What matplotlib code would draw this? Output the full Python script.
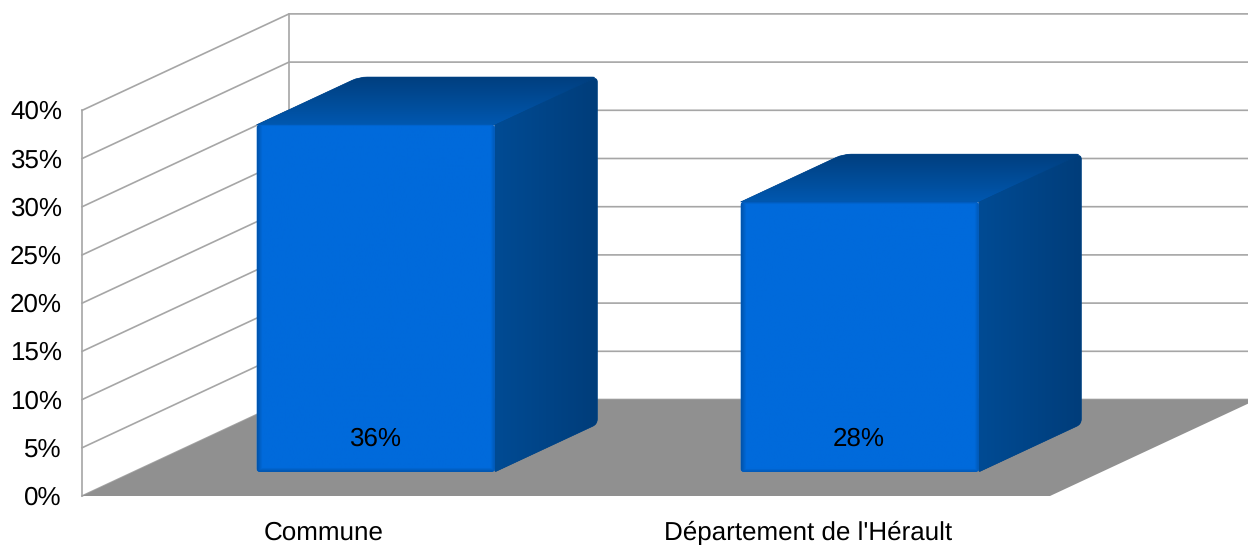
import matplotlib
matplotlib.use("Agg")
import matplotlib.pyplot as plt
import numpy as np
from matplotlib.colors import to_rgb
from matplotlib.patches import FancyBboxPatch, PathPatch, Polygon
from matplotlib.path import Path

categories = ["Commune", "Département de l'Hérault"]
values = [36, 28]
value_labels = ["36%", "28%"]
y_ticks = [0, 5, 10, 15, 20, 25, 30, 35, 40]
y_tick_labels = ["0%", "5%", "10%", "15%", "20%", "25%", "30%", "35%", "40%"]

WIDTH, HEIGHT = 1248, 545
ORIGIN_X, ORIGIN_Y = 82, 496
CAT_W = 484
PX_PER_PCT = 9.64
DEPTH_X, DEPTH_Y = 207, 96.5
BAR_LEFT, BAR_RIGHT = 0.254, 0.746
BAR_FRONT, BAR_BACK = 0.25, 0.745
GRID = "#a6a6a6"
FLOOR = "#909090"
FONT_SIZE = 18.5

plt.rcParams["font.family"] = ["Liberation Sans", "DejaVu Sans"]
plt.rcParams["text.hinting"] = "no_hinting"
plt.rcParams["text.hinting_factor"] = 1


def project(x, y, z=0.0):
    # x in categories, y in percent, z is depth from 0 (front) to 1 (back)
    return (ORIGIN_X + CAT_W * x + DEPTH_X * z, ORIGIN_Y - PX_PER_PCT * y - DEPTH_Y * z)


def lerp_rgb(c0, c1, t):
    c0, c1 = np.array(to_rgb(c0)), np.array(to_rgb(c1))
    return c0 + (c1 - c0) * np.clip(t, 0, 1)[..., None]


def rounded_path(points, radii):
    # closed outline, each corner cut back by its radius and bent with a quadratic curve
    pts = [np.array(p, dtype=float) for p in points]
    n = len(pts)
    verts, codes = [], []
    for i, p in enumerate(pts):
        prev_pt, next_pt = pts[i - 1], pts[(i + 1) % n]
        r = radii[i]
        a = p + (prev_pt - p) / np.linalg.norm(prev_pt - p) * r
        b = p + (next_pt - p) / np.linalg.norm(next_pt - p) * r
        verts.append(a)
        codes.append(Path.MOVETO if i == 0 else Path.LINETO)
        verts.extend([p, b])
        codes.extend([Path.CURVE3, Path.CURVE3])
    verts.append(verts[0])
    codes.append(Path.CLOSEPOLY)
    return Path(verts, codes)


def shaded(ax, rgb, bbox, clip, zorder):
    x0, y0, x1, y1 = bbox
    im = ax.imshow(rgb, extent=(x0, x1, y1, y0), aspect="auto", zorder=zorder, interpolation="bilinear")
    im.set_clip_path(clip)


def draw_bar(ax, pos, value):
    left, right = pos + BAR_LEFT, pos + BAR_RIGHT
    fl = project(left, value, BAR_FRONT)
    fr = project(right, value, BAR_FRONT)
    br = project(right, 0, BAR_FRONT)
    bl = project(left, 0, BAR_FRONT)
    tl_back = project(left, value, BAR_BACK)
    tr_back = project(right, value, BAR_BACK)
    br_back = project(right, 0, BAR_BACK)

    # top face, darker toward the back
    top = PathPatch(rounded_path([fl, fr, tr_back, tl_back], [0.1, 0.1, 5, 8]),
                    fc="#00478f", ec="#00478f", lw=0.5, zorder=3)
    ax.add_patch(top)
    bbox = (fl[0], tl_back[1], tr_back[0], fl[1])
    xx, yy = np.meshgrid(np.linspace(0, 1, 160), np.linspace(0, 1, 80))
    t = yy * 0.95 - np.clip(xx + yy * 0.28 - 0.98, 0, 1) * 2.2
    shaded(ax, lerp_rgb("#003f7f", "#0059b2", t), bbox, top, 3.1)

    # right side face, a little darker toward the back edge
    side = PathPatch(rounded_path([fr, tr_back, br_back, br], [0.1, 5, 5, 1.5]),
                     fc="#004487", ec="#004487", lw=0.5, zorder=3)
    ax.add_patch(side)
    bbox = (fr[0], tr_back[1], tr_back[0], br[1])
    xx = np.linspace(0, 1, 120)[None, :].repeat(2, axis=0)
    shaded(ax, lerp_rgb("#004b94", "#003d7a", xx), bbox, side, 3.1)

    # front face with a soft darker rim
    w, h = br[0] - bl[0], bl[1] - fl[1]
    front = FancyBboxPatch((fl[0], fl[1]), w, h, boxstyle="round,pad=0,rounding_size=3",
                           fc="#006adb", ec="none", zorder=4)
    ax.add_patch(front)
    px = np.arange(int(w))[None, :].repeat(int(h), axis=0)
    py = np.arange(int(h))[:, None].repeat(int(w), axis=1)
    rim = np.minimum.reduce([px / 5.0, (w - 1 - px) / 5.0, (h - 1 - py) / 4.0, py / 3.0 + 0.4])
    shaded(ax, lerp_rgb("#0054ad", "#006adb", rim), (fl[0], fl[1], fr[0], bl[1]), front, 4.1)


fig = plt.figure(figsize=(WIDTH / 100, HEIGHT / 100), dpi=100, facecolor="white")
ax = fig.add_axes([0, 0, 1, 1])
ax.set_xlim(0, WIDTH)
ax.set_ylim(HEIGHT, 0)
ax.axis("off")

n_cat = len(categories)
top_val = y_ticks[-1]

# walls: gridlines run along the left wall, then across the back wall
for tick in y_ticks:
    x0, y0 = project(0, tick, 0)
    x1, y1 = project(0, tick, 1)
    x2, y2 = project(n_cat, tick, 1)
    ax.plot([x0, x1, x2], [y0, y1, y2], color=GRID, lw=1.2, zorder=1, solid_joinstyle="miter")
for depth in (0, 1):
    x0, y0 = project(0, 0, depth)
    x1, y1 = project(0, top_val, depth)
    ax.plot([x0, x1], [y0, y1], color=GRID, lw=1.2, zorder=1)

floor = [project(0, 0, 0), project(n_cat, 0, 0), project(n_cat, 0, 1), project(0, 0, 1)]
ax.add_patch(Polygon(floor, closed=True, fc=FLOOR, ec="none", zorder=2))

for i, val in enumerate(values):
    draw_bar(ax, i, val)
    lx, ly = project(i + 0.5, 0, BAR_FRONT)
    ax.text(lx - 1, ly - 33, value_labels[i], ha="center", va="center", fontsize=FONT_SIZE, color="black", zorder=6)
    cx, cy = project(i + 0.5, 0, 0)
    ax.text(cx, cy + 37, categories[i], ha="center", va="center", fontsize=FONT_SIZE, color="black", zorder=6)

for tick, lab in zip(y_ticks, y_tick_labels):
    tx, ty = project(0, tick, 0)
    ax.text(tx - 20, ty + 2, lab, ha="right", va="center", fontsize=FONT_SIZE, color="black", zorder=6)

ax.set_xlim(0, WIDTH)
ax.set_ylim(HEIGHT, 0)
fig.savefig("out.png", dpi=100)
